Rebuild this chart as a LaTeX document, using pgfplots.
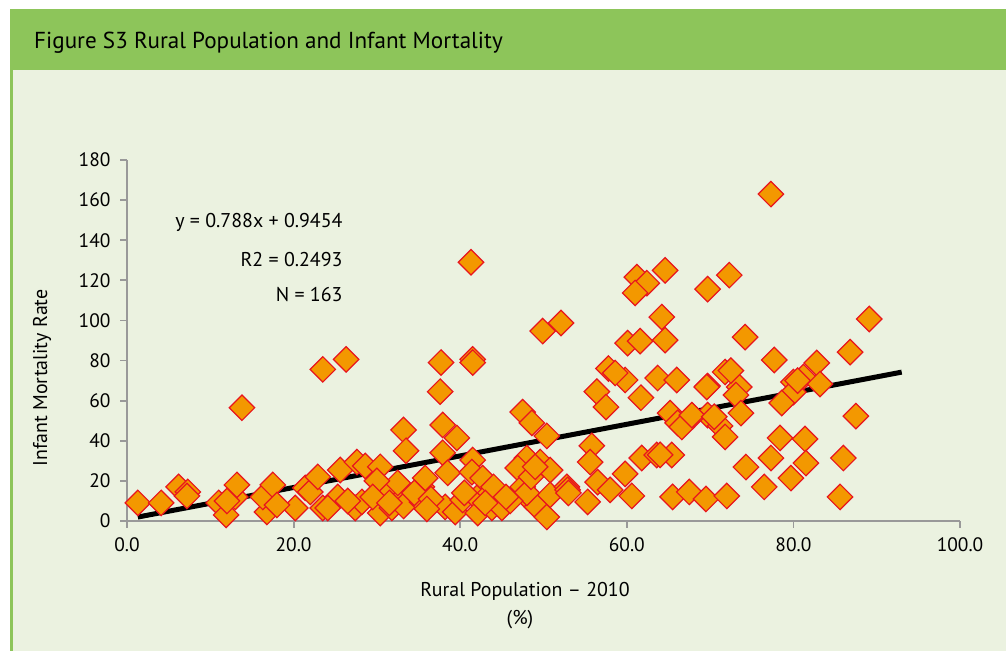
\documentclass[border=0pt]{standalone}
\usepackage{fontspec}
\setmainfont{PT Sans}
\usepackage{pgfplots}
\pgfplotsset{compat=1.18}
\definecolor{hdr}{HTML}{8DC55A}
\definecolor{panel}{HTML}{EBF2E0}
\definecolor{axgray}{HTML}{999999}
\definecolor{mfill}{HTML}{F39800}
\definecolor{medge}{HTML}{E8141E}
\pgfplotstableread{
x y
1.3 9
4.1 9
6.2 17
7.3 14.5
7.2 12.5
11.0 9
11.9 3
13.0 12
13.2 18
13.8 56.5
16.8 4.5
16.3 12
17.5 18
20.2 6.5
21.4 16.5
22.0 14.5
22.9 22
23.5 6.5
23.5 75.6
26.3 80.6
25.6 25.4
27.6 29.4
28.6 27.4
30.4 27
25.3 12
24.1 6.5
27.4 6.5
28.2 9.5
31.0 15.5
30.4 4
31.8 6.5
32.8 10.5
32.5 19
33.2 7.5
35.4 9.5
35.4 17
35.8 21.4
33.2 45.4
33.5 35
37.6 64.5
37.9 47.9
39.6 41.4
37.9 34
38.5 24
38.2 7
39.4 4.5
40.3 10.5
41.5 30.4
41.4 24.4
42.7 21.4
42.0 11.5
42.1 4
43.6 14
44.4 10.5
43.8 6.5
45.0 6.5
47.5 54.3
48.6 48.9
50.4 42.4
48.0 31.4
49.6 29.4
50.8 25.4
46.9 26.4
47.5 17
48.0 12
49.2 7
50.4 2
50.8 13
52.8 17
52.9 15.5
55.3 9.5
55.8 37.5
55.6 29.4
56.5 19.4
58.0 15.5
59.8 23.5
60.6 12.5
56.4 64.5
57.5 56.8
61.8 31.4
61.7 61.5
60.1 88.7
61.6 89.7
64.2 101.7
64.6 90.2
64.6 125
61.2 121.6
62.4 118.6
61.0 113.7
57.8 76
59.8 70.3
58.6 73.8
63.7 71.3
66.0 70.3
65.2 53.8
66.1 48.9
63.6 32.9
65.4 32.9
65.5 12
69.7 115.6
72.3 122.6
77.3 163
74.2 91.7
89.1 100.7
86.8 84.2
77.7 80.3
82.8 78.8
69.7 67.3
71.8 74.3
73.5 66.8
73.1 62.8
80.0 69.3
81.2 71.8
83.2 68.3
80.0 64.3
78.6 58.8
73.7 53.8
69.7 52.8
71.2 47.4
71.8 41.9
67.9 52.3
66.6 46.9
87.5 52.3
78.4 41.4
81.4 40.9
77.3 31.4
81.5 28.9
86.0 31.4
74.3 26.9
76.5 17
79.7 21.4
85.6 12
67.5 14.5
69.5 11
72.0 12.5
41.3 129
37.7 79
41.5 80.6
41.5 79
49.9 94.7
52.1 98.7
30.0 20
48.0 14
67.8 52.8
69.6 66.8
29.5 12
34.5 14
36.5 11
44.0 17
46.0 10
12.0 10
18.0 8
26.5 10
40.5 14
43.0 9
48.5 22
53.0 14
45.5 12
36.0 6
31.5 9
49.0 27
64.0 33
70.5 52
72.5 75
80.5 70
}\scatterdata
\begin{document}
\begin{tikzpicture}
\path[use as bounding box] (0bp,0bp) rectangle (1006bp,651bp);
\fill[white] (0bp,0bp) rectangle (1006bp,651bp);
\fill[hdr] (10bp,581bp) rectangle (1006bp,642bp);
\fill[panel] (12bp,0bp) rectangle (1006bp,581bp);
\fill[hdr] (10bp,0bp) rectangle (12.5bp,581bp);
\node[anchor=west,inner sep=0pt,font=\fontsize{23.2}{27}\selectfont] at (34bp,608bp) {Figure S3 Rural Population and Infant Mortality};
\begin{axis}[
  at={(127bp,130bp)}, anchor=south west,
  scale only axis, width=833bp, height=361bp,
  xmin=0, xmax=100, ymin=0, ymax=180,
  axis lines*=left,
  axis line style={axgray, line width=1.8bp},
  every tick/.style={axgray, line width=1.8bp},
  tick align=outside, major tick length=7bp,
  xtick={0,20,...,100}, ytick={0,20,...,180},
  /pgf/number format/assume math mode=true,
  ticklabel style={font=\fontsize{19.5}{22}\selectfont},
  yticklabel style={xshift=-6bp},
  xticklabel style={yshift=-6bp, /pgf/number format/fixed, /pgf/number format/fixed zerofill, /pgf/number format/precision=1},
  clip=false,
]
\addplot[only marks, mark=square*, mark size=9bp,
  mark options={rotate=45, fill=mfill, draw=medge, line width=1.2bp}]
  table[x=x,y=y] {\scatterdata};
\addplot[black, line width=5bp, no marks] coordinates {(1.3,1.97) (93,74.23)};
\node[anchor=east, font=\fontsize{20}{24}\selectfont] at (axis cs:26.3,149) {y = 0.788x + 0.9454};
\node[anchor=east, font=\fontsize{20}{24}\selectfont] at (axis cs:26.3,130.6) {R2 = 0.2493};
\node[anchor=east, font=\fontsize{20}{24}\selectfont] at (axis cs:26.3,112.7) {N = 163};
\end{axis}
\node[rotate=90, font=\fontsize{20}{24}\selectfont] at (42bp,273bp) {Infant Mortality Rate};
\node[font=\fontsize{20}{24}\selectfont] at (525bp,60bp) {Rural Population – 2010};
\node[font=\fontsize{20}{24}\selectfont] at (520bp,31bp) {(\%)};
\end{tikzpicture}
\end{document}
